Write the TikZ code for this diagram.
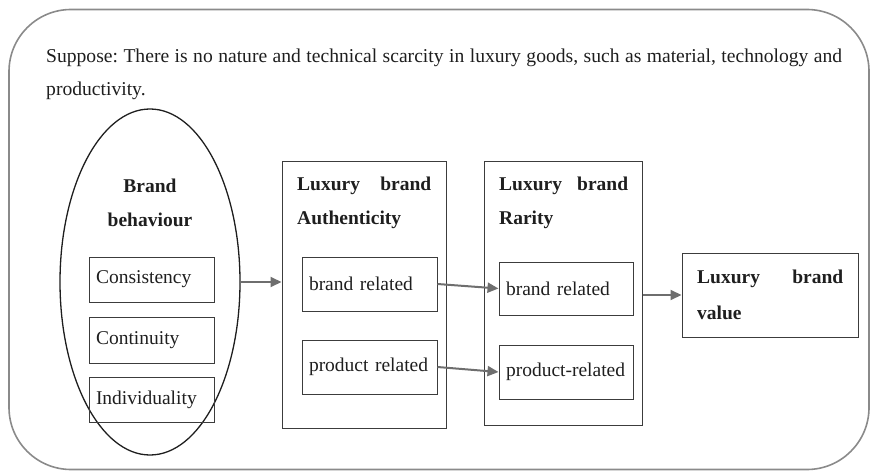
\documentclass[tikz,border=0pt]{standalone}
\usepackage{fontspec}
\setmainfont{Liberation Serif}
\frenchspacing
\usetikzlibrary{shapes.geometric,arrows.meta}
\definecolor{framegray}{HTML}{8A8A8A}
\definecolor{boxgray}{HTML}{3C3C3C}
\definecolor{arrowgray}{HTML}{6E6E6E}
\definecolor{inkgray}{HTML}{1E1E1E}
\tikzset{
  frame/.style={draw=framegray, line width=1.6pt, rounded corners=62pt, inner sep=0pt},
  group/.style={draw=boxgray, line width=1pt, inner sep=0pt},
  item/.style={draw=boxgray, line width=1pt, inner xsep=7pt, inner ysep=0pt,
    align=left, font=\fontsize{19.5}{22}\selectfont, text=inkgray},
  title/.style={inner sep=0pt, font=\fontsize{19.5}{22}\selectfont\bfseries, text=inkgray},
  note/.style={inner sep=0pt, font=\fontsize{19.6}{22}\selectfont, text=inkgray},
  flow/.style={draw=arrowgray, line width=2pt, -{Triangle[length=11pt,width=10pt]}},
}
\begin{document}
\begin{tikzpicture}[x=1pt, y=-1pt]
\useasboundingbox (0,0) rectangle (872,473);

% outer frame
\node[frame, minimum width=860pt, minimum height=460pt] (frame) at (439,239.5) {};

% assumption text
\node[note, anchor=west] (supp1) at (46,58)
  {\makebox[796pt][s]{Suppose: There is no nature and technical scarcity in luxury goods, such as material, technology and}};
\node[note, anchor=west] (supp2) at (46,91) {productivity.};

% brand behaviour
\node[ellipse, draw=inkgray, line width=1.3pt, minimum width=180pt, minimum height=346pt, inner sep=0pt] (bb) at (150,282) {};
\node[title] (bbt1) at (150,186) {Brand};
\node[title] (bbt2) at (150,220) {behaviour};
\node[item, text width=111pt, minimum height=45pt] (cons) at (151.5,279.5) {Consistency};
\node[item, text width=111pt, minimum height=46pt] (cont) at (151.5,340) {Continuity};
\node[item, text width=111pt, minimum height=45pt] (indi) at (151.5,399.5) {Individuality};

% authenticity
\node[group, minimum width=164pt, minimum height=266pt] (auth) at (364,295) {};
\node[title, anchor=west] (autht1) at (297,186) {\makebox[134pt][s]{Luxury brand}};
\node[title, anchor=west] (autht2) at (297,220) {Authenticity};
\node[item, text width=121pt, minimum height=54pt] (abr) at (369.5,284) {brand related};
\node[item, text width=121pt, minimum height=54pt] (apr) at (369.5,367) {product related};

% rarity
\node[group, minimum width=158pt, minimum height=263pt] (rar) at (563,293.5) {};
\node[title, anchor=west] (rart1) at (499,186) {\makebox[129pt][s]{Luxury brand}};
\node[title, anchor=west] (rart2) at (499,220) {Rarity};
\node[item, text width=120pt, minimum height=53pt] (rbr) at (566,288.5) {brand related};
\node[item, text width=120pt, minimum height=54pt] (rpr) at (566,372) {product-related};

% value
\node[group, minimum width=176pt, minimum height=84pt] (val) at (770,295) {};
\node[title, anchor=west] (valt1) at (697,279) {\makebox[146pt][s]{Luxury brand}};
\node[title, anchor=west] (valt2) at (697,313) {value};

% connectors
\draw[flow] (bb.east) -- (auth.west |- bb.east);
\draw[flow] (abr.east) -- (rbr.west);
\draw[flow] (apr.east) -- (rpr.west);
\draw[flow] (val.west -| rar.east) -- (val.west);
\end{tikzpicture}
\end{document}
